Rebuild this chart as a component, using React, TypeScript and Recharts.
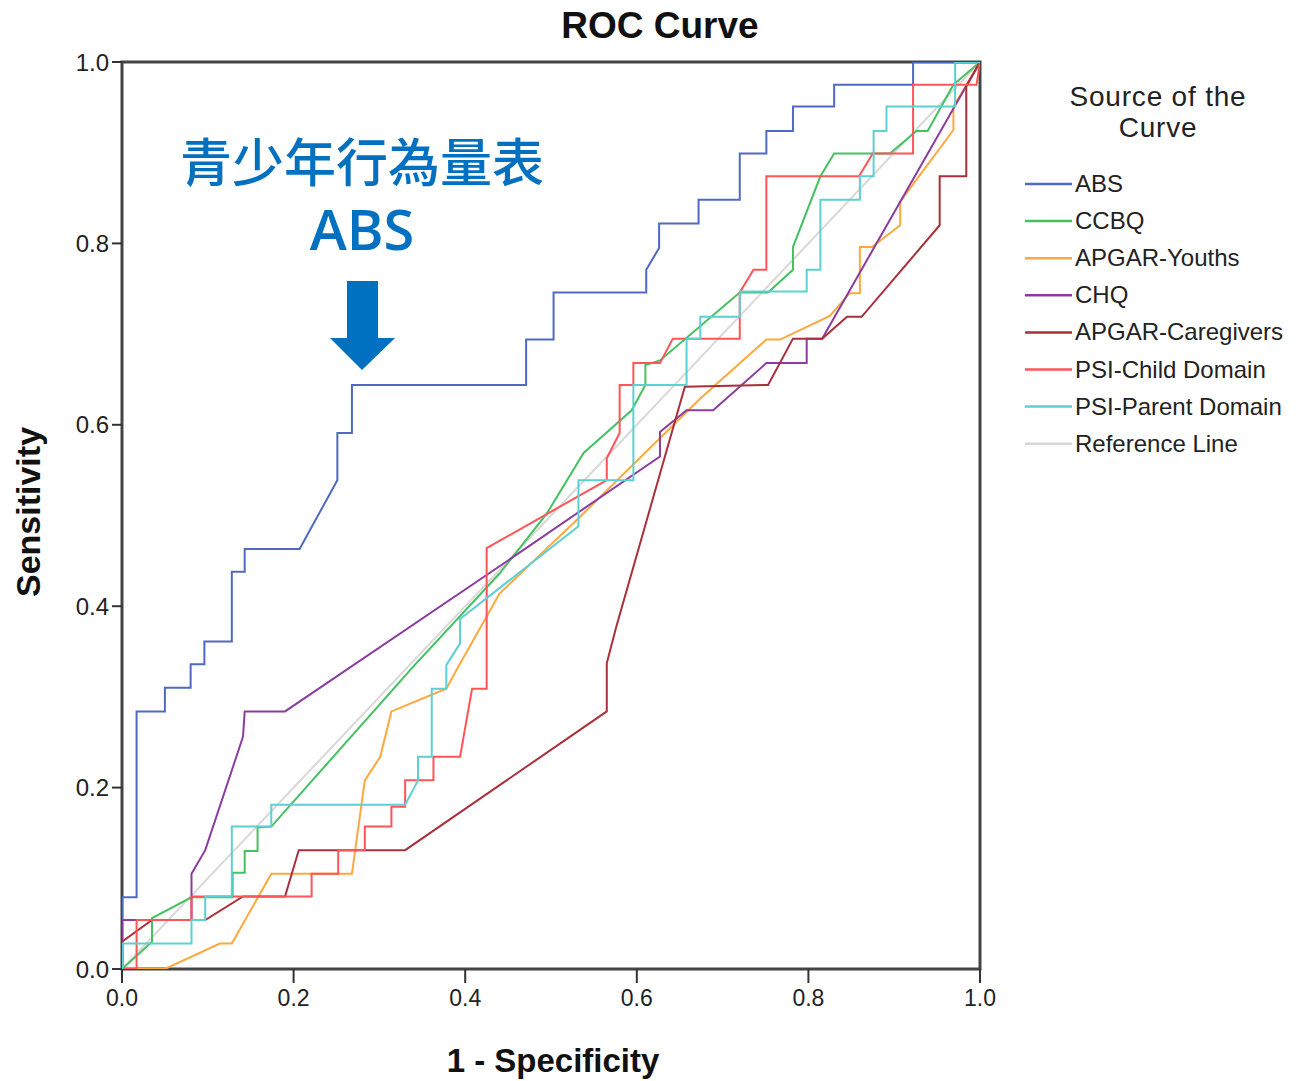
import React from "react";
import { LineChart, Line, XAxis, YAxis, ReferenceArea, Legend } from "recharts";

type Pt = [number, number];

const axisTicks = [0, 0.2, 0.4, 0.6, 0.8, 1.0];

// [1 - specificity, sensitivity]
const absPts: Pt[] = [
  [0, 0], [0, 0.079], [0.017, 0.079], [0.017, 0.284], [0.05, 0.284], [0.05, 0.31],
  [0.08, 0.31], [0.08, 0.336], [0.096, 0.336], [0.096, 0.361], [0.128, 0.361],
  [0.128, 0.438], [0.143, 0.438], [0.143, 0.463], [0.207, 0.463], [0.251, 0.539],
  [0.251, 0.591], [0.268, 0.591], [0.268, 0.644], [0.471, 0.644], [0.471, 0.694],
  [0.503, 0.694], [0.503, 0.746], [0.611, 0.746], [0.611, 0.771], [0.626, 0.795],
  [0.626, 0.822], [0.672, 0.822], [0.672, 0.848], [0.72, 0.848], [0.72, 0.899],
  [0.751, 0.899], [0.751, 0.924], [0.782, 0.924], [0.782, 0.951], [0.83, 0.951],
  [0.83, 0.975], [0.922, 0.975], [0.922, 1], [1, 1],
];

const ccbqPts: Pt[] = [
  [0, 0], [0.035, 0.03], [0.035, 0.056], [0.081, 0.079], [0.129, 0.079], [0.129, 0.106],
  [0.143, 0.106], [0.143, 0.13], [0.158, 0.13], [0.158, 0.156], [0.174, 0.157],
  [0.341, 0.335], [0.44, 0.436], [0.495, 0.502], [0.538, 0.569], [0.594, 0.616],
  [0.61, 0.644], [0.61, 0.666], [0.627, 0.671], [0.72, 0.746], [0.753, 0.746],
  [0.782, 0.771], [0.782, 0.796], [0.814, 0.874], [0.83, 0.899], [0.895, 0.899],
  [0.926, 0.924], [0.939, 0.924], [0.969, 0.975], [1, 1],
];

const apgarYouthPts: Pt[] = [
  [0, 0], [0.05, 0], [0.114, 0.028], [0.128, 0.028], [0.174, 0.105], [0.268, 0.105],
  [0.283, 0.208], [0.301, 0.234], [0.314, 0.284], [0.378, 0.309], [0.39, 0.33],
  [0.44, 0.414], [0.53, 0.495], [0.674, 0.629], [0.751, 0.694], [0.767, 0.694],
  [0.825, 0.72], [0.848, 0.745], [0.86, 0.745], [0.86, 0.796], [0.874, 0.796],
  [0.907, 0.82], [0.907, 0.846], [0.969, 0.925], [0.969, 0.951], [1, 1],
];

const chqPts: Pt[] = [
  [0, 0], [0, 0.054], [0.081, 0.054], [0.081, 0.105], [0.097, 0.131], [0.141, 0.256],
  [0.143, 0.284], [0.19, 0.284], [0.44, 0.444], [0.627, 0.565], [0.627, 0.592],
  [0.658, 0.616], [0.689, 0.616], [0.751, 0.668], [0.798, 0.668], [0.798, 0.695],
  [0.816, 0.695], [1, 1],
];

const apgarCarePts: Pt[] = [
  [0, 0], [0, 0.03], [0.035, 0.054], [0.097, 0.054], [0.141, 0.08], [0.19, 0.08],
  [0.206, 0.131], [0.33, 0.131], [0.565, 0.284], [0.565, 0.337], [0.576, 0.377],
  [0.656, 0.642], [0.753, 0.644], [0.782, 0.695], [0.816, 0.695], [0.845, 0.719],
  [0.862, 0.719], [0.953, 0.82], [0.953, 0.874], [0.984, 0.874], [0.984, 0.973], [1, 1],
];

const psiChildPts: Pt[] = [
  [0, 0], [0.017, 0], [0.017, 0.054], [0.081, 0.054], [0.081, 0.08], [0.221, 0.08],
  [0.221, 0.105], [0.252, 0.105], [0.252, 0.131], [0.283, 0.131], [0.283, 0.157],
  [0.314, 0.157], [0.314, 0.179], [0.33, 0.179], [0.33, 0.208], [0.363, 0.208],
  [0.363, 0.234], [0.394, 0.234], [0.408, 0.309], [0.425, 0.309], [0.425, 0.464],
  [0.565, 0.539], [0.565, 0.563], [0.58, 0.591], [0.58, 0.644], [0.596, 0.644],
  [0.596, 0.668], [0.627, 0.668], [0.642, 0.695], [0.72, 0.695], [0.72, 0.746],
  [0.736, 0.771], [0.751, 0.771], [0.751, 0.874], [0.859, 0.874], [0.875, 0.899],
  [0.922, 0.899], [0.922, 0.975], [0.996, 0.975], [1, 1],
];

const psiParentPts: Pt[] = [
  [0, 0], [0, 0.028], [0.081, 0.028], [0.081, 0.054], [0.097, 0.054], [0.097, 0.08],
  [0.128, 0.08], [0.128, 0.157], [0.174, 0.157], [0.174, 0.181], [0.33, 0.181],
  [0.345, 0.208], [0.345, 0.234], [0.361, 0.234], [0.361, 0.309], [0.378, 0.309],
  [0.378, 0.335], [0.394, 0.359], [0.394, 0.386], [0.532, 0.488], [0.532, 0.539],
  [0.596, 0.539], [0.596, 0.644], [0.658, 0.644], [0.658, 0.695], [0.674, 0.695],
  [0.674, 0.719], [0.72, 0.719], [0.72, 0.747], [0.798, 0.747], [0.798, 0.771],
  [0.814, 0.771], [0.814, 0.848], [0.86, 0.848], [0.86, 0.874], [0.876, 0.874],
  [0.876, 0.924], [0.891, 0.924], [0.891, 0.951], [0.971, 0.951], [0.971, 1], [1, 1],
];

const refPts: Pt[] = [[0, 0], [1, 1]];

const series = [
  { name: "ABS", color: "#5069C2", pts: absPts },
  { name: "CCBQ", color: "#45C162", pts: ccbqPts },
  { name: "APGAR-Youths", color: "#FFA83D", pts: apgarYouthPts },
  { name: "CHQ", color: "#8C3C9E", pts: chqPts },
  { name: "APGAR-Caregivers", color: "#A9303A", pts: apgarCarePts },
  { name: "PSI-Child Domain", color: "#FF5458", pts: psiChildPts },
  { name: "PSI-Parent Domain", color: "#5CD0D2", pts: psiParentPts },
  { name: "Reference Line", color: "#D8D8D8", pts: refPts },
];

const FONT = "'Liberation Sans', Arial, sans-serif";
const toRows = (pts: Pt[]) => pts.map(([x, y]) => ({ x, y }));

function LegendBox() {
  return (
    <svg width={276} height={400}>
      <text x={138} y={36} textAnchor="middle" fontSize={28} letterSpacing={0.8} fontFamily={FONT} fill="#222">
        Source of the
      </text>
      <text x={138} y={67} textAnchor="middle" fontSize={28} letterSpacing={0.8} fontFamily={FONT} fill="#222">
        Curve
      </text>
      {series.map((s, i) => {
        const y = 114 + i * 37.1;
        return (
          <g key={s.name}>
            <line x1={5} x2={52} y1={y} y2={y} stroke={s.color} strokeWidth={2.5} />
            <text x={55} y={y + 8} fontSize={24} fontFamily={FONT} fill="#222">
              {s.name}
            </text>
          </g>
        );
      })}
    </svg>
  );
}

export default function App() {
  const drawOrder = [series[7], ...series.slice(0, 7)];
  return (
    <div style={{ position: "absolute", left: 0, top: 0, width: 1296, height: 1081, background: "#fff" }}>
      <LineChart width={1296} height={1081} margin={{ top: 62, right: 316, bottom: 0, left: 0 }}>
        <XAxis
          dataKey="x"
          type="number"
          domain={[0, 1]}
          ticks={axisTicks}
          allowDataOverflow
          tickFormatter={(v: number) => v.toFixed(1)}
          height={112}
          tickSize={14}
          tickMargin={7}
          axisLine={false}
          tickLine={{ stroke: "#333", strokeWidth: 2 }}
          tick={{ fontSize: 23, fill: "#222", fontFamily: FONT }}
        />
        <YAxis
          type="number"
          domain={[0, 1]}
          ticks={axisTicks}
          allowDataOverflow
          tickFormatter={(v: number) => v.toFixed(1)}
          width={122}
          tickSize={10}
          tickMargin={3}
          axisLine={false}
          tickLine={{ stroke: "#333", strokeWidth: 2 }}
          tick={{ fontSize: 24, fill: "#222", fontFamily: FONT }}
        />
        <ReferenceArea x1={0} x2={1} y1={0} y2={1} fill="none" fillOpacity={0} stroke="#444" strokeWidth={3} />
        {drawOrder.map((s) => (
          <Line
            key={s.name}
            data={toRows(s.pts)}
            dataKey="y"
            name={s.name}
            type="linear"
            stroke={s.color}
            strokeWidth={2}
            dot={false}
            activeDot={false}
            isAnimationActive={false}
          />
        ))}
        <Legend
          layout="vertical"
          align="center"
          verticalAlign="middle"
          content={() => <LegendBox />}
          wrapperStyle={{ position: "absolute", left: 1020, top: 70, width: 276, height: 400 }}
        />
      </LineChart>
      <svg
        width={1296}
        height={1081}
        style={{ position: "absolute", left: 0, top: 0, pointerEvents: "none" }}
      >
        <text x={660} y={38} textAnchor="middle" fontSize={37} fontWeight="bold" fontFamily={FONT} fill="#111">
          ROC Curve
        </text>
        <text x={553} y={1072} textAnchor="middle" fontSize={33} fontWeight="bold" fontFamily={FONT} fill="#111">
          1 - Specificity
        </text>
        <text
          x={40}
          y={512}
          transform="rotate(-90 40 512)"
          textAnchor="middle"
          fontSize={34}
          fontWeight="bold"
          fontFamily={FONT}
          fill="#111"
        >
          Sensitivity
        </text>
        <text
          x={362}
          y={182}
          textAnchor="middle"
          fontSize={52}
          fontWeight={500}
          fontFamily="'Noto Sans CJK TC', sans-serif"
          fill="#0070C0"
        >
          青少年行為量表
        </text>
        <text
          x={362}
          y={250}
          textAnchor="middle"
          fontSize={56}
          fontWeight={600}
          fontFamily="'Open Sans', 'Noto Sans CJK TC', sans-serif"
          fill="#0070C0"
        >
          ABS
        </text>
        <polygon points="347,281 378,281 378,338 395,338 362,370 330,338 347,338" fill="#0070C0" />
      </svg>
    </div>
  );
}
